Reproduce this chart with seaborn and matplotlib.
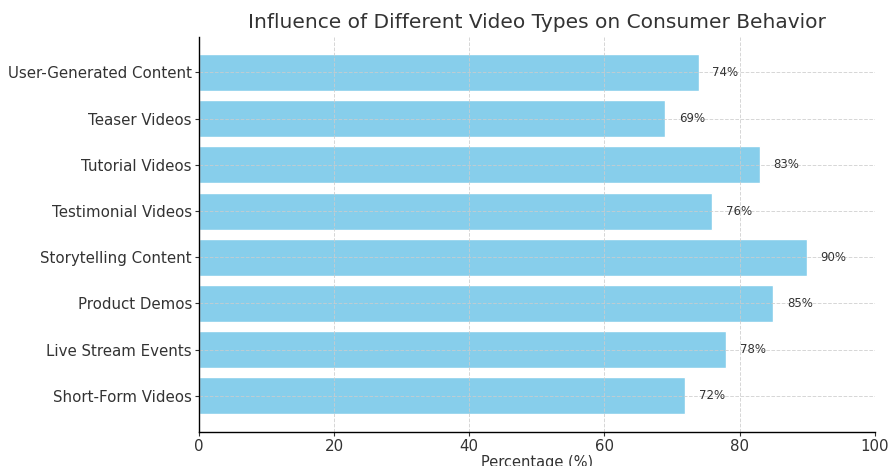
import pandas as pd
import seaborn as sns
import matplotlib.pyplot as plt

categories = ["Short-Form Videos", "Live Stream Events", "Product Demos", "Storytelling Content",
              "Testimonial Videos", "Tutorial Videos", "Teaser Videos", "User-Generated Content"]
values = [72, 78, 85, 90, 76, 83, 69, 74]

df = pd.DataFrame({"type": categories, "pct": values})
# top-to-bottom order as drawn
df = df.iloc[::-1].reset_index(drop=True)

sns.set_style("white")
plt.rcParams["font.family"] = ["DejaVu Sans"]
plt.rcParams["text.color"] = "#333333"
plt.rcParams["axes.labelcolor"] = "#333333"
plt.rcParams["xtick.color"] = "#333333"
plt.rcParams["ytick.color"] = "#333333"

fig, ax = plt.subplots(figsize=(8.88, 4.66), dpi=100)
sns.barplot(data=df, y="type", x="pct", color="skyblue", saturation=1, width=0.8, ax=ax, zorder=1)

for i, v in enumerate(df["pct"]):
    ax.text(v + 2, i, f"{v}%", va="center", ha="left", fontsize=8.5, color="#333333")

ax.set_xlim(0, 100)
ax.set_ylim(len(df) - 0.22, -0.76)
ax.set_xlabel("Percentage (%)", fontsize=10.5, labelpad=1)
ax.set_ylabel("")
ax.set_title("Influence of Different Video Types on Consumer Behavior", fontsize=14.5, color="#333333", pad=7)
ax.tick_params(axis="both", labelsize=10.8, length=3, pad=2, left=True, bottom=True)
ax.grid(True, linestyle="--", color="#cccccc", linewidth=0.7, alpha=0.8, zorder=3)
ax.set_axisbelow(False)
sns.despine(ax=ax)
for s in ["left", "bottom"]:
    ax.spines[s].set_color("black")
    ax.spines[s].set_linewidth(1.0)
    ax.spines[s].set_zorder(5)

fig.subplots_adjust(left=0.224, right=0.985, top=0.92, bottom=0.073)
fig.savefig("out.png", dpi=100)
